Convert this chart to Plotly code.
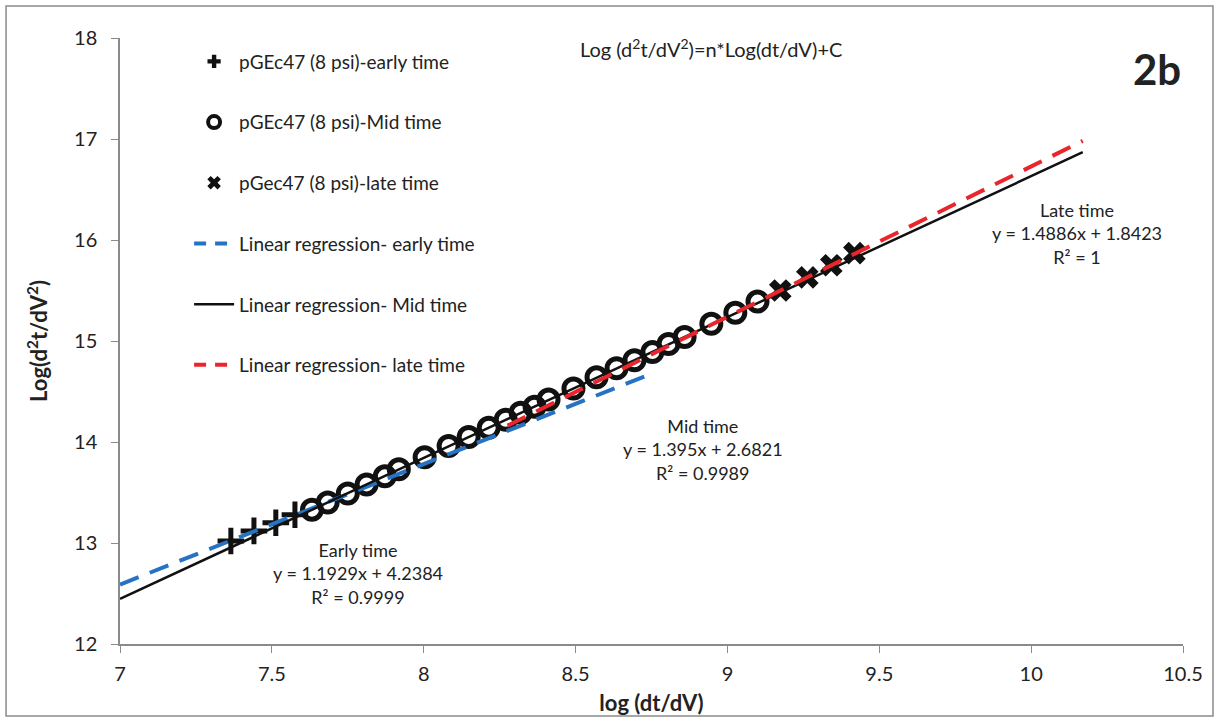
import plotly.graph_objects as go

# ---------------- data ----------------
early_x = [7.365, 7.441, 7.513, 7.576]
early_y = [13.02, 13.12, 13.20, 13.28]

mid_x = [7.632, 7.684, 7.750, 7.812, 7.872, 7.918, 8.003, 8.082, 8.148, 8.214,
         8.270, 8.319, 8.365, 8.411, 8.493, 8.569, 8.635, 8.694, 8.753, 8.806,
         8.859, 8.947, 9.026, 9.099]
mid_y = [13.33, 13.40, 13.49, 13.58, 13.66, 13.73, 13.85, 13.96, 14.05, 14.14,
         14.22, 14.29, 14.35, 14.42, 14.53, 14.64, 14.73, 14.81, 14.89, 14.97,
         15.04, 15.17, 15.28, 15.39]

late_x = [9.174, 9.263, 9.342, 9.418]
late_y = [15.50, 15.63, 15.75, 15.87]

# regression lines: slope, intercept, x extent
early_fit = {"slope": 1.1929, "icpt": 4.2384, "x": [7.0, 8.74]}
mid_fit = {"slope": 1.395, "icpt": 2.6821, "x": [7.0, 10.17]}
late_fit = {"slope": 1.4886, "icpt": 1.8423, "x": [8.276, 10.17]}

x_ticks = [7, 7.5, 8, 8.5, 9, 9.5, 10, 10.5]
y_ticks = [12, 13, 14, 15, 16, 17, 18]

FONT = "Lato"
TXT = "#222"
BLUE = "#2673c4"
RED = "#e8262c"

def fit_y(f):
    return [f["slope"] * x + f["icpt"] for x in f["x"]]

fig = go.Figure()

# data markers (drawn first, lines on top)
fig.add_trace(go.Scatter(x=early_x, y=early_y, mode="markers", showlegend=False,
                         marker=dict(symbol="cross-thin-open", size=19, color="#111",
                                     line=dict(color="#111", width=5))))
fig.add_trace(go.Scatter(x=mid_x, y=mid_y, mode="markers", showlegend=False,
                         marker=dict(symbol="circle-open", size=19, color="#111",
                                     line=dict(color="#111", width=5))))
fig.add_trace(go.Scatter(x=late_x, y=late_y, mode="markers", showlegend=False,
                         marker=dict(symbol="x", size=20, color="#111",
                                     line=dict(color="#111", width=0))))

# regression lines
fig.add_trace(go.Scatter(x=early_fit["x"], y=fit_y(early_fit), mode="lines", showlegend=False,
                         line=dict(color=BLUE, width=4, dash="20px,12px")))
fig.add_trace(go.Scatter(x=mid_fit["x"], y=fit_y(mid_fit), mode="lines", showlegend=False,
                         line=dict(color="#111", width=2.5)))
fig.add_trace(go.Scatter(x=late_fit["x"], y=fit_y(late_fit), mode="lines", showlegend=False,
                         line=dict(color=RED, width=4, dash="20px,12px")))

# legend entries
leg = [
    ("pGEc47 (8 psi)-early time", "markers", dict(symbol="cross", size=11, color="#111"), None),
    ("pGEc47 (8 psi)-Mid time", "markers", dict(symbol="circle-open", size=12, color="#111",
                                                 line=dict(color="#111", width=4)), None),
    ("pGec47 (8 psi)-late time", "markers", dict(symbol="x", size=12, color="#111"), None),
    ("Linear regression- early time", "lines", None, dict(color=BLUE, width=4, dash="12px,9px")),
    ("Linear regression- Mid time", "lines", None, dict(color="#111", width=2.5)),
    ("Linear regression- late time", "lines", None, dict(color=RED, width=4, dash="12px,9px")),
]
for i, (name, mode, mk, ln) in enumerate(leg):
    kw = dict(x=[None], y=[None], mode=mode, name=name, legendgroup=f"g{i}", showlegend=True)
    if mk:
        kw["marker"] = mk
    if ln:
        kw["line"] = ln
    fig.add_trace(go.Scatter(**kw))

annot_font = dict(family=FONT, size=18, color=TXT)
annots = [
    dict(x=7.783, y=12.70, text="Early time<br>y = 1.1929x + 4.2384<br>R² = 0.9999"),
    dict(x=8.918, y=13.93, text="Mid time<br>y = 1.395x + 2.6821<br>R² = 0.9989"),
    dict(x=10.151, y=16.06, text="Late time<br>y = 1.4886x + 1.8423<br>R² = 1"),
]
for a in annots:
    fig.add_annotation(x=a["x"], y=a["y"], text=a["text"], showarrow=False,
                       font=annot_font, align="center", xref="x", yref="y",
                       xanchor="center", yanchor="middle")

fig.add_annotation(x=0.556, y=0.983, xref="paper", yref="paper", showarrow=False,
                   xanchor="center", yanchor="middle",
                   text="Log (d<sup>2</sup>t/dV<sup>2</sup>)=n*Log(dt/dV)+C",
                   font=dict(family=FONT, size=20, color=TXT))
fig.add_annotation(x=1.0, y=0.949, xref="paper", yref="paper", showarrow=False,
                   text="<b>2b</b>", xanchor="right", yanchor="middle",
                   font=dict(family=FONT, size=42, color=TXT))

# outer frame
fig.add_shape(type="rect", xref="paper", yref="paper",
              x0=-0.1072, x1=1.0282, y0=-0.119, y1=1.0528,
              line=dict(color="#8a8a8a", width=1.5), fillcolor="rgba(0,0,0,0)", layer="below")

axis_common = dict(showgrid=False, zeroline=False, showline=True, linecolor="#8a8a8a",
                   linewidth=1.5, ticks="outside", tickcolor="#8a8a8a", ticklen=7,
                   automargin=False,
                   tickfont=dict(family=FONT, size=20, color=TXT))

fig.update_layout(
    width=1219, height=720,
    margin=dict(l=120, r=36, t=38, b=76),
    paper_bgcolor="white", plot_bgcolor="white",
    xaxis=dict(range=[7, 10.5], tickvals=x_ticks, ticklabelstandoff=4,
               title=dict(text="<b>log (dt/dV)</b>", font=dict(family=FONT, size=22, color=TXT),
                          standoff=12),
               **axis_common),
    yaxis=dict(range=[12, 18], tickvals=y_ticks, ticklabelstandoff=10,
               title=dict(text="<b>Log(d<sup>2</sup>t/dV<sup>2</sup>)</b>",
                          font=dict(family=FONT, size=22, color=TXT), standoff=20),
               **axis_common),
    legend=dict(x=0.065, y=0.9926, xanchor="left", yanchor="top",
                font=dict(family=FONT, size=19, color=TXT),
                tracegroupgap=33, bgcolor="rgba(0,0,0,0)", itemwidth=40),
)

fig.write_html("out.html")
